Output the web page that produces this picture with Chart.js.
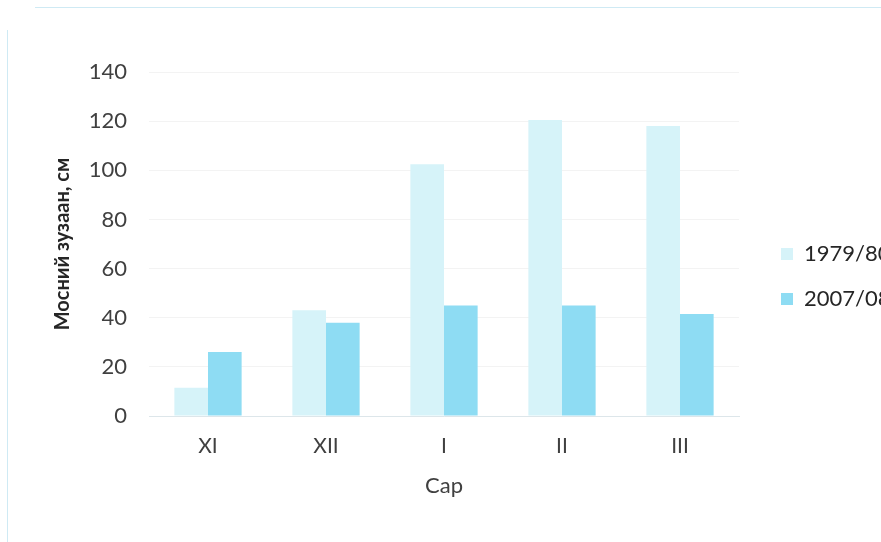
<!DOCTYPE html>
<html>
<head>
<meta charset="utf-8">
<script src="https://cdn.jsdelivr.net/npm/chart.js@4"></script>
<style>
  html, body { margin: 0; padding: 0; background: #ffffff; overflow: hidden; }
  #wrap { position: relative; width: 881px; height: 542px; }
</style>
</head>
<body>
<div id="wrap"><canvas id="chart"></canvas></div>
<script>
// Months of the snow season
const months = ['XI', 'XII', 'I', 'II', 'III'];
// Snow depth by month, cm
const season1979 = [11.5, 43, 102.5, 120.5, 118];
const season2007 = [26, 38, 45, 45, 41.5];
const seriesNames = ['1979/80', '2007/08'];
const yTicks = [0, 20, 40, 60, 80, 100, 120, 140];

const FONT = 'Lato, "Liberation Sans", sans-serif';

// Thin pale frame around the chart area
const framePlugin = {
  id: 'frame',
  beforeDraw(chart) {
    const ctx = chart.ctx;
    ctx.save();
    ctx.strokeStyle = '#cfeaf4';
    ctx.lineWidth = 1;
    ctx.beginPath();
    ctx.moveTo(35, 7.5);
    ctx.lineTo(881, 7.5);
    ctx.moveTo(7.5, 30);
    ctx.lineTo(7.5, 542);
    ctx.stroke();
    ctx.restore();
  }
};

new Chart(document.getElementById('chart'), {
  type: 'bar',
  data: {
    labels: months,
    datasets: [
      {
        label: seriesNames[0],
        data: season1979,
        backgroundColor: '#d6f3f9',
        borderColor: '#d6f3f9',
        borderWidth: 0
      },
      {
        label: seriesNames[1],
        data: season2007,
        backgroundColor: '#8edcf3',
        borderColor: '#8edcf3',
        borderWidth: 0
      }
    ]
  },
  options: {
    responsive: true,
    maintainAspectRatio: false,
    animation: false,
    layout: { padding: { top: 54, bottom: 43, left: 40, right: 0 } },
    datasets: { bar: { categoryPercentage: 0.57, barPercentage: 1.0 } },
    scales: {
      x: {
        grid: { display: false, drawTicks: false },
        border: { display: true, color: '#dde6ea', width: 1 },
        ticks: { color: '#404040', padding: 18, font: { family: FONT, size: 21 } },
        title: {
          display: true,
          text: 'Сар',
          color: '#404040',
          font: { family: FONT, size: 22 },
          padding: { top: 0, bottom: 0 }
        },
        afterFit(scale) { scale.height = 83; }
      },
      y: {
        min: 0,
        max: 140,
        afterBuildTicks(scale) { scale.ticks = yTicks.map(v => ({ value: v })); },
        grid: { color: '#f3f3f3', lineWidth: 1, drawTicks: false },
        border: { display: false },
        ticks: { color: '#404040', padding: 22, font: { family: FONT, size: 22 } },
        title: {
          display: true,
          text: 'Мосний зузаан, см',
          color: '#262626',
          font: { family: FONT, size: 20, weight: 'bold' },
          padding: { top: 11, bottom: 8 }
        },
        afterFit(scale) { scale.width = 109; }
      },
      gap: {
        position: 'right',
        display: true,
        grid: { display: false },
        border: { display: false },
        ticks: { display: false },
        afterFit(scale) { scale.width = 19; }
      }
    },
    plugins: {
      title: { display: true, text: '', padding: 0, font: { size: 15 } },
      tooltip: { enabled: false },
      legend: {
        position: 'right',
        maxWidth: 123,
        labels: {
          boxWidth: 12,
          boxHeight: 12,
          padding: 23,
          color: '#262626',
          font: { family: FONT, size: 22 }
        }
      }
    }
  },
  plugins: [framePlugin]
});
</script>
</body>
</html>
